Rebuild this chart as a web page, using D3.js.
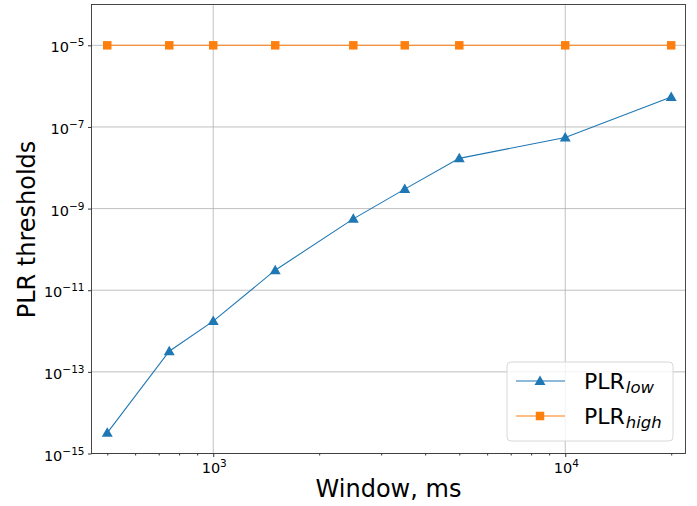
<!DOCTYPE html>
<html>
<head>
<meta charset="utf-8">
<script src="https://cdn.jsdelivr.net/npm/d3@7"></script>
<style>
  html, body { margin: 0; padding: 0; background: #fff; }
  svg { display: block; font-family: "DejaVu Sans", sans-serif; }
</style>
</head>
<body>
<svg id="chart" width="697" height="506"></svg>
<script>
// ---- data ----
const windows = [500, 750, 1000, 1500, 2500, 3500, 5000, 10000, 20000];
const plrLow  = [3.2e-15, 3.2e-13, 1.75e-12, 3.1e-11, 5.6e-10, 3.0e-9, 1.7e-8, 5.5e-8, 5.4e-7];
const plrHigh = [1e-5, 1e-5, 1e-5, 1e-5, 1e-5, 1e-5, 1e-5, 1e-5, 1e-5];
const xMajorTicks = [1000, 10000];
const xMinorTicks = [500, 600, 700, 800, 900, 2000, 3000, 4000, 5000, 6000, 7000, 8000, 9000, 20000];
const yTickExps = [-15, -13, -11, -9, -7, -5];
const xTickExps = [3, 4];
const seriesNames = [["PLR", "low"], ["PLR", "high"]];
const colors = ["#1f77b4", "#ff7f0e"];

// ---- layout ----
const L = 91.5, R = 685.5, T = 4.5, B = 453.5;
const svg = d3.select("#chart");
const x = d3.scaleLog().domain([451, 21960]).range([L, R]);
const y = d3.scaleLog().domain([1e-15, 1e-4]).range([B, T]);

// grid
const g = svg.append("g");
g.selectAll("line.gx").data(xMajorTicks).enter().append("line")
  .attr("x1", d => x(d)).attr("x2", d => x(d)).attr("y1", T).attr("y2", B)
  .attr("stroke", "#b0b0b0").attr("stroke-width", 0.8);
g.selectAll("line.gy").data(yTickExps).enter().append("line")
  .attr("x1", L).attr("x2", R).attr("y1", d => y(Math.pow(10, d))).attr("y2", d => y(Math.pow(10, d)))
  .attr("stroke", "#b0b0b0").attr("stroke-width", 0.8);

// axes using d3 axis generators for ticks
const xAxisMajor = d3.axisBottom(x).tickValues(xMajorTicks).tickSize(3.5).tickFormat("");
const xAxisMinor = d3.axisBottom(x).tickValues(xMinorTicks).tickSize(2).tickFormat("");
const yAxis = d3.axisLeft(y).tickValues(yTickExps.map(e => Math.pow(10, e))).tickSize(3.5).tickFormat("");
[svg.append("g").attr("transform", `translate(0,${B})`).call(xAxisMajor),
 svg.append("g").attr("transform", `translate(0,${B})`).call(xAxisMinor),
 svg.append("g").attr("transform", `translate(${L},0)`).call(yAxis)].forEach(a => {
  a.select(".domain").remove();
  a.selectAll(".tick line").attr("stroke", "#000").attr("stroke-width", 0.8);
});

// tick labels
function powLabel(sel, exp, anchor) {
  const t = sel.append("text").attr("font-size", 14.5).attr("fill", "#000").attr("text-anchor", anchor);
  t.append("tspan").text("10");
  t.append("tspan").attr("font-size", 10.5).attr("dy", -6).text(exp < 0 ? "\u2212" + (-exp) : String(exp));
  return t;
}
yTickExps.forEach(e => {
  const t = powLabel(svg, e, "end");
  t.attr("x", L - 7).attr("y", y(Math.pow(10, e)) + 7);
});
xTickExps.forEach(e => {
  const t = powLabel(svg, e, "middle");
  t.attr("x", x(Math.pow(10, e)) + 1).attr("y", B + 19.5);
});

// frame
svg.append("rect").attr("x", L).attr("y", T).attr("width", R - L).attr("height", B - T)
  .attr("fill", "none").attr("stroke", "#333").attr("stroke-width", 0.9);

// series
const line = d3.line().x(d => x(d[0])).y(d => y(d[1]));
const tri = d3.symbol().type(d3.symbolTriangle).size(52);
const sq = d3.symbol().type(d3.symbolSquare).size(72);
[plrLow, plrHigh].forEach((vals, i) => {
  const pts = windows.map((w, j) => [w, vals[j]]);
  svg.append("path").datum(pts).attr("d", line).attr("fill", "none")
    .attr("stroke", colors[i]).attr("stroke-width", 1.1);
  svg.selectAll(null).data(pts).enter().append("path")
    .attr("d", i === 0 ? tri : sq)
    .attr("transform", d => `translate(${x(d[0])},${y(d[1]) + (i === 0 ? 0.8 : 0)})`)
    .attr("fill", colors[i]);
});

// axis labels
svg.append("text").attr("x", (L + R) / 2).attr("y", 497).attr("text-anchor", "middle")
  .attr("font-size", 24).text("Window, ms");
svg.append("text").attr("transform", "translate(35,229.5) rotate(-90)").attr("text-anchor", "middle")
  .attr("font-size", 24).text("PLR thresholds");

// legend
const lg = svg.append("g");
lg.append("rect").attr("x", 507).attr("y", 362).attr("width", 166).attr("height", 79)
  .attr("rx", 4).attr("fill", "#fff").attr("fill-opacity", 0.8).attr("stroke", "#d8d8d8").attr("stroke-width", 1);
seriesNames.forEach((nm, i) => {
  const yy = 381 + i * 35;
  lg.append("line").attr("x1", 516).attr("x2", 565).attr("y1", yy).attr("y2", yy)
    .attr("stroke", colors[i]).attr("stroke-width", 1.1);
  lg.append("path").attr("d", i === 0 ? tri : sq).attr("transform", `translate(540,${yy + (i === 0 ? 0.8 : 0)})`).attr("fill", colors[i]);
  const t = lg.append("text").attr("x", 584).attr("y", yy + 7.5).attr("font-size", 22).attr("fill", "#000");
  t.append("tspan").text(nm[0]);
  t.append("tspan").attr("font-size", 16.5).attr("font-style", "italic").attr("dx", 1).attr("dy", 4).text(nm[1]);
});
</script>
</body>
</html>
